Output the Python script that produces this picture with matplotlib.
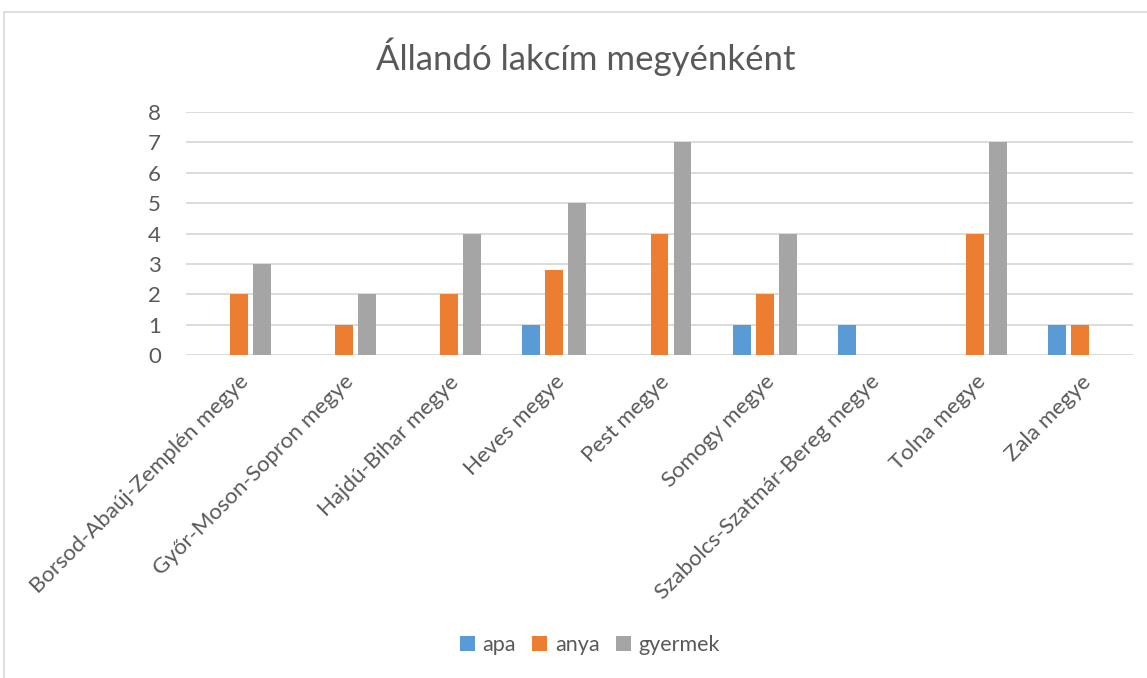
import numpy as np
import matplotlib
matplotlib.use('Agg')
import matplotlib.pyplot as plt
from matplotlib.patches import Rectangle

plt.rcParams['font.family'] = ['Lato', 'DejaVu Sans']

megyek = ['Borsod-Abaúj-Zemplén megye', 'Győr-Moson-Sopron megye', 'Hajdú-Bihar megye',
          'Heves megye', 'Pest megye', 'Somogy megye', 'Szabolcs-Szatmár-Bereg megye',
          'Tolna megye', 'Zala megye']
apa = [0, 0, 0, 1, 0, 1, 1, 0, 1]
anya = [2, 1, 2, 2.8, 4, 2, 0, 4, 1]
gyermek = [3, 2, 4, 5, 7, 4, 0, 7, 0]
sorozatok = ['apa', 'anya', 'gyermek']
szinek = ['#5B9BD5', '#ED7D31', '#A5A5A5']

fig = plt.figure(figsize=(11.47, 6.78), dpi=100)
ax = fig.add_axes([186/1147, 1-355/678, 947/1147, 243/678])

x = np.arange(len(megyek))
w = 0.17
for i, (adat, nev, szin) in enumerate(zip([apa, anya, gyermek], sorozatok, szinek)):
    ax.bar(x + (i-1)*0.219, adat, w, color=szin, label=nev, zorder=3)

ax.set_xlim(-0.5, len(megyek)-0.5)
ax.set_ylim(0, 8)
ax.set_yticks(range(0, 9))
ax.grid(axis='y', color='#d9d9d9', linewidth=1.3, zorder=0)
for s in ax.spines.values():
    s.set_visible(False)
ax.tick_params(length=0, colors='#595959', labelsize=16)
ax.tick_params(axis='y', pad=18)
ax.set_xticks(x)
ax.set_xticklabels(megyek, rotation=45, ha='right', rotation_mode='anchor')
ax.tick_params(axis='x', pad=12)

fig.text(586/1147, 1-57/678, 'Állandó lakcím megyénként', ha='center', va='center',
         fontsize=25, color='#595959')

fig.legend(loc='center', bbox_to_anchor=(590/1147, 1-645/678), ncol=3, frameon=False,
           fontsize=15.5, labelcolor='#595959', handlelength=0.7, handleheight=0.7,
           handletextpad=0.35, columnspacing=0.75)

fig.patches.append(Rectangle((4/1147, -0.1), 1.1, 1-12/678+0.1, transform=fig.transFigure,
                             fill=False, edgecolor='#d9d9d9', linewidth=1.2))

fig.savefig('out.png', dpi=100)
